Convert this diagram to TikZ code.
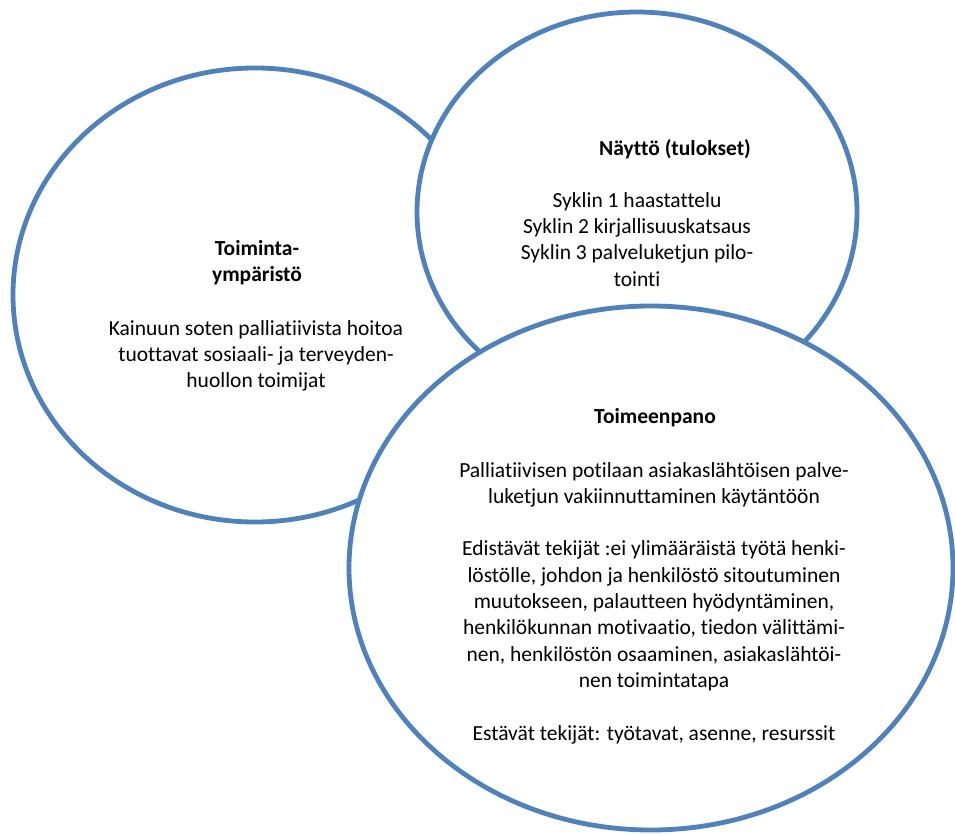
\documentclass[tikz,border=0pt]{standalone}
\usepackage{fontspec}
\setmainfont{Carlito}[Ligatures=NoCommon]
\definecolor{ringblue}{HTML}{4F81BD}
\begin{document}
\begin{tikzpicture}[x=1pt,y=-1pt,
  ring/.style={draw=ringblue,fill=white,line width=4.8pt},
  % multi-line nodes sit on the baseline of their last line
  heading/.style={inner sep=0pt,anchor=base,align=center,
    font=\fontsize{21.5}{26.3}\selectfont\bfseries},
  bodytext/.style={inner sep=0pt,anchor=base,align=center,
    font=\fontsize{21.5}{26.3}\selectfont}]
  \useasboundingbox (0,0) rectangle (955,834);

  % three overlapping rings, each later one painted over the earlier
  \draw[ring] (255,295) ellipse [x radius=242pt, y radius=227pt];
  \draw[ring] (637,212) ellipse [x radius=220pt, y radius=200pt];
  \draw[ring] (651,568) ellipse [x radius=302pt, y radius=262pt];

  % operating environment
  \node[heading] (envtitle) at (257,281.3) {Toiminta-\\ympäristö};
  \node[bodytext] (envbody) at (256,387.6)
    {Kainuun soten palliatiivista hoitoa\\tuottavat sosiaali- ja terveyden-\\huollon toimijat};

  % evidence
  \node[heading] (evtitle) at (675,156) {Näyttö (tulokset)};
  \node[bodytext] (evbody) at (637,286)
    {Syklin 1 haastattelu\\Syklin 2 kirjallisuuskatsaus\\Syklin 3 palveluketjun pilo-\\tointi};

  % implementation
  \node[heading] (imptitle) at (655,423) {Toimeenpano};
  \node[bodytext] (impbody) at (654,740)
    {Palliatiivisen potilaan asiakaslähtöisen palve-\\luketjun vakiinnuttaminen käytäntöön\\[26.3pt]
     Edistävät tekijät :ei ylimääräistä työtä henki-\\löstölle, johdon ja henkilöstö sitoutuminen\\
     muutokseen, palautteen hyödyntäminen,\\henkilökunnan motivaatio, tiedon välittämi-\\
     nen, henkilöstön osaaminen, asiakaslähtöi-\\nen toimintatapa\\[26.3pt]
     Estävät tekijät: työtavat, asenne, resurssit};
\end{tikzpicture}
\end{document}
